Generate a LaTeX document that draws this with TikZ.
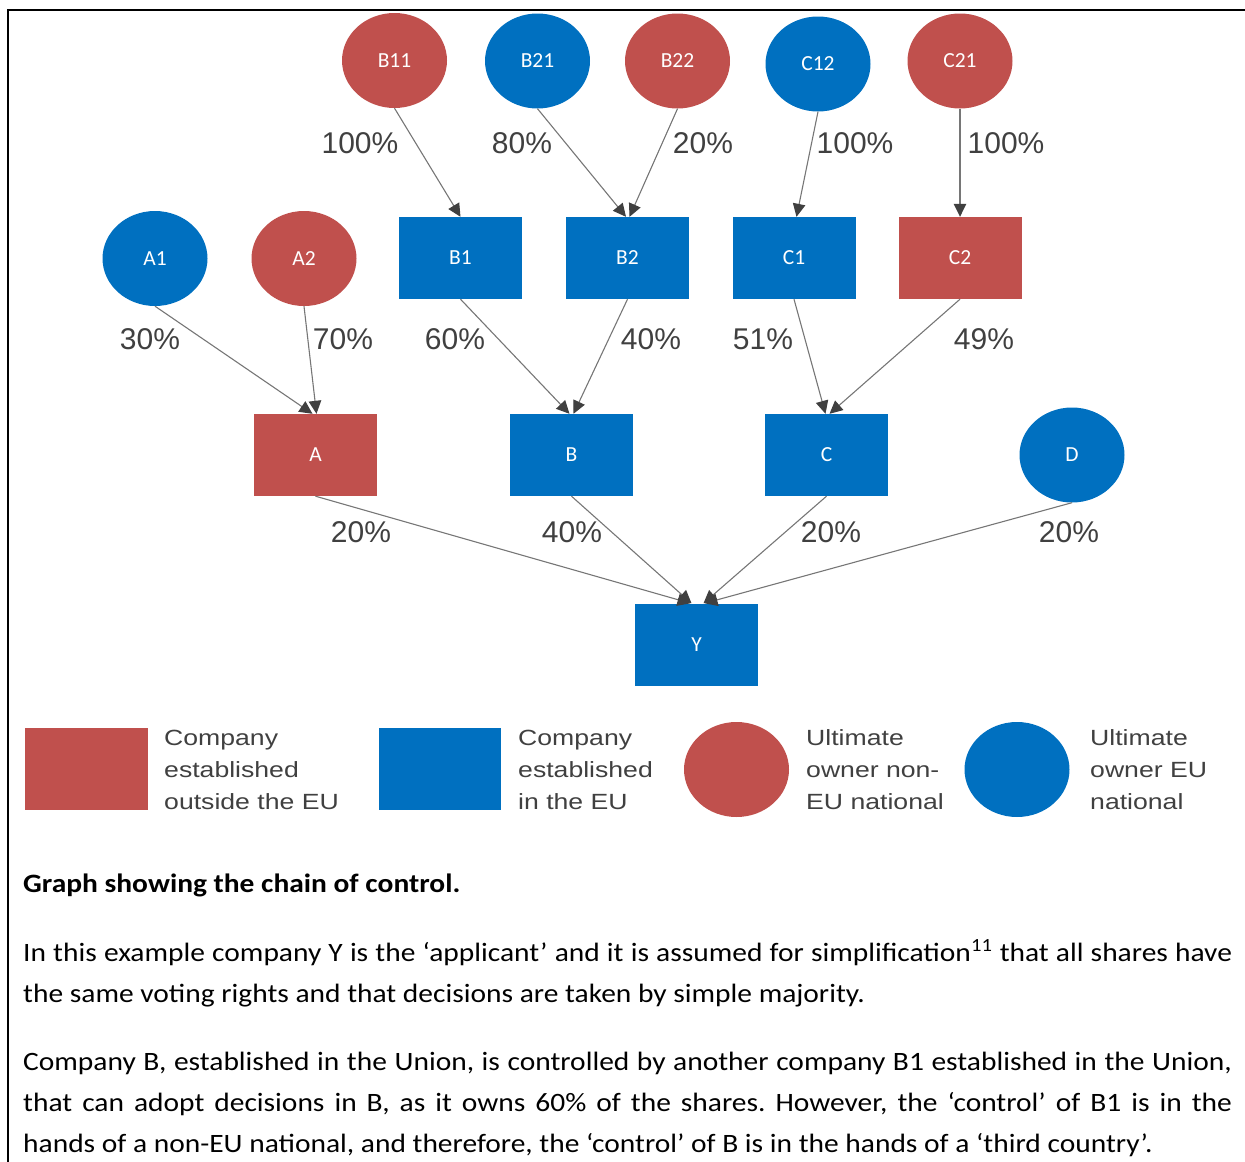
\documentclass[tikz,border=0pt]{standalone}
\usepackage{fontspec}
\setmainfont{Carlito}
\newfontfamily\arialf{Liberation Sans}
\usepackage{graphicx}
\usetikzlibrary{shapes.geometric,arrows.meta}
\definecolor{nred}{HTML}{C0504D}
\definecolor{nblue}{HTML}{0070C0}
\definecolor{lgray}{HTML}{404040}
\definecolor{agray}{HTML}{767676}
\newcommand{\legsc}[1]{\scalebox{1.21}[1]{#1}}
\newcommand{\bodysc}[1]{\scalebox{1.112}[1]{#1}}
\frenchspacing
\begin{document}
\begin{tikzpicture}[x=1pt,y=-1pt,
 owner/.style={ellipse, minimum width=105pt, minimum height=95pt, inner sep=0pt, text=white, font=\fontsize{21.5}{24}\selectfont},
 comp/.style={rectangle, minimum width=123pt, minimum height=82pt, inner sep=0pt, text=white, font=\fontsize{21.5}{24}\selectfont},
 redf/.style={fill=nred},
 bluef/.style={fill=nblue},
 link/.style={draw=agray, line width=1.1pt, -{Triangle[length=13pt,width=12.5pt,color=lgray]}},
 pct/.style={text=lgray, font=\arialf\fontsize{30}{36}\selectfont, inner sep=0pt},
 legtxt/.style={text=lgray, font=\arialf\fontsize{22}{26}\selectfont, inner sep=0pt, anchor=base west},
 body/.style={font=\fontsize{26.5}{32}\selectfont, inner sep=0pt, anchor=base west}
]
\useasboundingbox (0,0) rectangle (1245,1162);
\draw[line width=2.2pt] (1245,10) -- (7.7,10) -- (7.7,1162);

% owners
\node[owner,redf]  (B11) at (394.5,60.5) {B11};
\node[owner,bluef] (B21) at (537.5,61) {B21};
\node[owner,redf]  (B22) at (677.5,61) {B22};
\node[owner,bluef] (C12) at (818,64) {C12};
\node[owner,redf]  (C21) at (960,61) {C21};
\node[owner,bluef] (A1) at (155,258.5) {A1};
\node[owner,redf]  (A2) at (304,258.5) {A2};
\node[owner,bluef] (D) at (1072,455) {D};

% companies
\node[comp,bluef] (B1) at (460.5,258) {B1};
\node[comp,bluef] (B2) at (627.5,258) {B2};
\node[comp,bluef] (C1) at (794,258) {C1};
\node[comp,redf]  (C2) at (960,258) {C2};
\node[comp,redf]  (A) at (315.5,455) {A};
\node[comp,bluef] (B) at (571.5,455) {B};
\node[comp,bluef] (C) at (826.5,455) {C};
\node[comp,bluef] (Y) at (696.5,644.5) {Y};

% links
\draw[link] (B11.south) -- (B1.north);
\draw[link] (B21.south) -- ([xshift=-1.5pt]B2.north);
\draw[link] (B22.south) -- ([xshift=2pt]B2.north);
\draw[link] (C12.south) -- ([xshift=2.5pt]C1.north);
\draw[link] (C21.south) -- (C2.north);
\draw[link] (A1.south) -- ([xshift=-3pt]A.north);
\draw[link] (A2.south) -- ([xshift=1pt]A.north);
\draw[link] (B1.south) -- ([xshift=-2pt]B.north);
\draw[link] (B2.south) -- ([xshift=2pt]B.north);
\draw[link] (C1.south) -- ([xshift=-1pt]C.north);
\draw[link] (C2.south) -- ([xshift=3pt]C.north);
\draw[link] (A.south) -- ([xshift=-6pt]Y.north);
\draw[link] (B.south) -- ([xshift=-5pt]Y.north);
\draw[link] (C.south) -- ([xshift=7pt]Y.north);
\draw[link] (D.south) -- ([xshift=8pt]Y.north);

% percentages
\node[pct] (p1) at (360,143) {100\%};
\node[pct] (p2) at (522,143) {80\%};
\node[pct] (p3) at (703,143) {20\%};
\node[pct] (p4) at (855,143) {100\%};
\node[pct] (p5) at (1006,143) {100\%};
\node[pct] (p6) at (150,339) {30\%};
\node[pct] (p7) at (343,339) {70\%};
\node[pct] (p8) at (455,339) {60\%};
\node[pct] (p9) at (651,339) {40\%};
\node[pct] (p10) at (763,339) {51\%};
\node[pct] (p11) at (984,339) {49\%};
\node[pct] (p12) at (361,532) {20\%};
\node[pct] (p13) at (572,532) {40\%};
\node[pct] (p14) at (831,532) {20\%};
\node[pct] (p15) at (1069,532) {20\%};

% legend
\node[comp,redf,minimum width=123pt,minimum height=82pt] (lgA) at (86.5,769) {};
\node[comp,bluef,minimum width=122pt,minimum height=82pt] (lgB) at (440,769) {};
\node[owner,redf] (lgC) at (736.5,769.5) {};
\node[owner,bluef] (lgD) at (1017,769.5) {};
\node[legtxt] (ta1) at (164,745) {\legsc{Company}};
\node[legtxt] (ta2) at (164,777) {\legsc{established}};
\node[legtxt] (ta3) at (164,809) {\legsc{outside the EU}};
\node[legtxt] (tb1) at (518,745) {\legsc{Company}};
\node[legtxt] (tb2) at (518,777) {\legsc{established}};
\node[legtxt] (tb3) at (518,809) {\legsc{in the EU}};
\node[legtxt] (tc1) at (806,745) {\legsc{Ultimate}};
\node[legtxt] (tc2) at (806,777) {\legsc{owner non-}};
\node[legtxt] (tc3) at (806,809) {\legsc{EU national}};
\node[legtxt] (td1) at (1090,745) {\legsc{Ultimate}};
\node[legtxt] (td2) at (1090,777) {\legsc{owner EU}};
\node[legtxt] (td3) at (1090,809) {\legsc{national}};

% body text
\node[body] (h) at (23,892) {\bodysc{\bfseries Graph showing the chain of control.}};
\node[body] (a1) at (23,961) {\bodysc{\makebox[1087pt][s]{In this example company Y is the ‘applicant’ and it is assumed for simplification\textsuperscript{11} that all shares have}}};
\node[body] (a2) at (23,1002) {\bodysc{the same voting rights and that decisions are taken by simple majority.}};
\node[body] (b1) at (23,1070) {\bodysc{\makebox[1087pt][s]{Company B, established in the Union, is controlled by another company B1 established in the Union,}}};
\node[body] (b2) at (23,1111) {\bodysc{\makebox[1087pt][s]{that can adopt decisions in B, as it owns 60\% of the shares. However, the ‘control’ of B1 is in the}}};
\node[body] (b3) at (23,1152) {\bodysc{hands of a non-EU national, and therefore, the ‘control’ of B is in the hands of a ‘third country’.}};
\end{tikzpicture}
\end{document}
